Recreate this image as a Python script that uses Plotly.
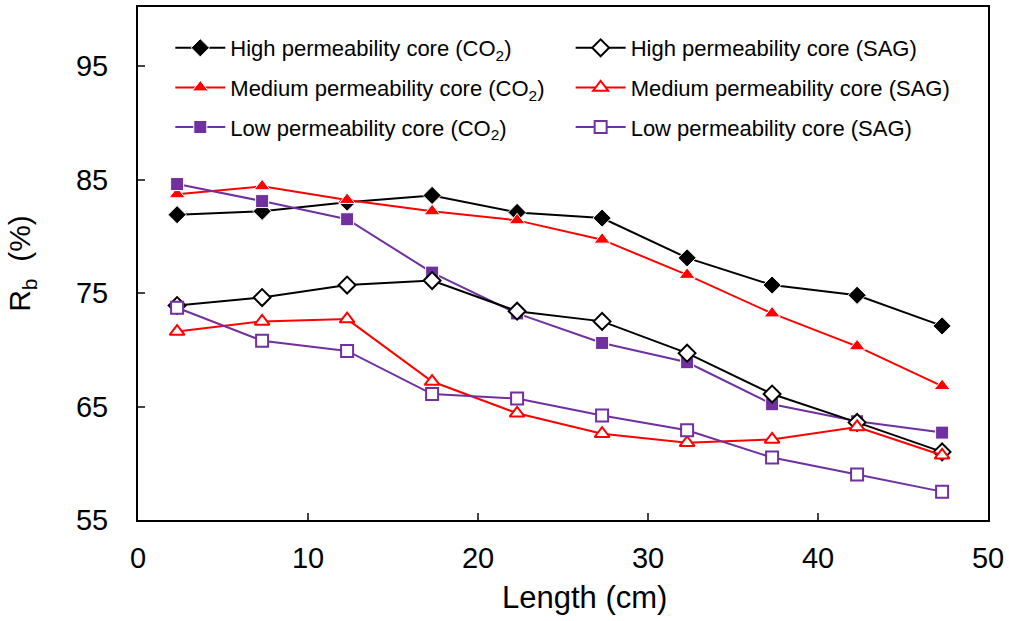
import plotly.graph_objects as go

length_cm = [2.3, 7.3, 12.3, 17.3, 22.3, 27.3, 32.3, 37.3, 42.3, 47.3]

high_co2 = [81.9, 82.2, 83.0, 83.6, 82.1, 81.6, 78.1, 75.7, 74.8, 72.1]
medium_co2 = [83.7, 84.4, 83.2, 82.2, 81.4, 79.7, 76.6, 73.2, 70.3, 66.8]
low_co2 = [84.6, 83.1, 81.5, 76.8, 73.2, 70.6, 68.9, 65.2, 63.7, 62.7]
high_sag = [73.9, 74.6, 75.7, 76.1, 73.4, 72.5, 69.7, 66.1, 63.6, 61.0]
medium_sag = [71.6, 72.5, 72.7, 67.2, 64.4, 62.6, 61.8, 62.1, 63.2, 60.7]
low_sag = [73.7, 70.8, 69.9, 66.1, 65.7, 64.2, 62.9, 60.5, 59.0, 57.5]

x_ticks = [0, 10, 20, 30, 40, 50]
y_ticks = [55, 65, 75, 85, 95]

BLACK = "#000000"
RED = "#ff0000"
PURPLE = "#7030a0"

series = [
    ("High permeability core (CO<sub>2</sub>)", high_co2, BLACK, "diamond", True, "legend", 14),
    ("Medium permeability core (CO<sub>2</sub>)", medium_co2, RED, "triangle-up", True, "legend", 14),
    ("Low permeability core (CO<sub>2</sub>)", low_co2, PURPLE, "square", True, "legend", 13),
    ("High permeability core (SAG)", high_sag, BLACK, "diamond", False, "legend2", 14),
    ("Medium permeability core (SAG)", medium_sag, RED, "triangle-up", False, "legend2", 14),
    ("Low permeability core (SAG)", low_sag, PURPLE, "square", False, "legend2", 13),
]

fig = go.Figure()
for i, (name, vals, col, sym, filled, leg, size) in enumerate(series):
    if filled:
        marker = dict(symbol=sym, size=size, color=col, line=dict(color="white", width=1))
    else:
        marker = dict(symbol=sym, size=size - 1, color="white", line=dict(color=col, width=2))
    fig.add_trace(go.Scatter(
        x=length_cm, y=vals, name=name, mode="lines+markers",
        line=dict(color=col, width=2), marker=marker,
        legend=leg, legendgroup="g%d" % i,
    ))

font = "Liberation Sans, Arial, sans-serif"
legend_common = dict(
    bgcolor="rgba(0,0,0,0)", font=dict(family=font, size=22, color="black"),
    tracegroupgap=8, xanchor="left", yanchor="top", itemwidth=50,
)
fig.update_layout(
    width=1009, height=621,
    margin=dict(l=138, r=16, t=5, b=101),
    paper_bgcolor="white", plot_bgcolor="white",
    font=dict(family=font, color="black"),
    legend=dict(x=0.038, y=0.961, **legend_common),
    legend2=dict(x=0.509, y=0.961, **legend_common),
    xaxis=dict(
        range=[0, 50], tickvals=x_ticks, ticks="inside", ticklen=7, tickwidth=1.5,
        showline=True, linecolor="black", linewidth=2, mirror=True, showgrid=False,
        zeroline=False, tickfont=dict(size=29), ticklabelstandoff=11,
        ticklabeloverflow="allow",
    ),
    yaxis=dict(
        range=[55, 100.2], tickvals=y_ticks, ticks="inside", ticklen=7, tickwidth=1.5,
        showline=True, linecolor="black", linewidth=2, mirror=True, showgrid=False,
        zeroline=False, tickfont=dict(size=29), ticklabelstandoff=22,
        title=dict(text="R<sub>b</sub>  (%)", font=dict(size=30), standoff=36),
    ),
    annotations=[dict(
        text="Length (cm)", xref="paper", yref="paper", x=0.525, y=-0.151,
        xanchor="center", yanchor="middle", showarrow=False,
        font=dict(family=font, size=31, color="black"),
    )],
)

fig.write_html("out.html")
